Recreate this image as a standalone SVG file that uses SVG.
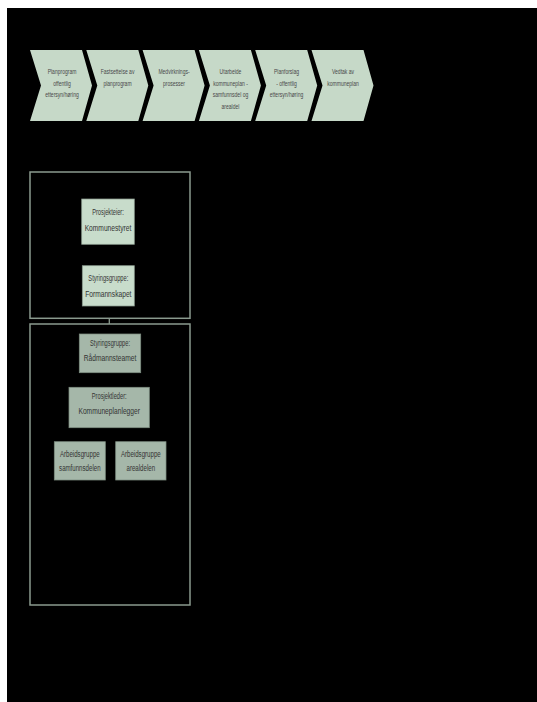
<svg xmlns="http://www.w3.org/2000/svg" width="537" height="702" viewBox="0 0 537 702">
<style>
.chev{fill:#c6d9c8;stroke:none}
.ct{font-family:"Liberation Sans",Arial,sans-serif;font-size:7.4px;fill:#484848;text-anchor:middle}
.cont{fill:#000;stroke:#8a9a8e;stroke-width:1.5}
.nl{fill:#c8dccb;stroke:#8a9a8e;stroke-width:0.75}
.nd{fill:#a5b7a9;stroke:#7d8d81;stroke-width:0.75}
.s{font-family:"Liberation Sans",Arial,sans-serif;font-size:8.4px;fill:#333;text-anchor:middle}
.b{font-family:"Liberation Sans",Arial,sans-serif;font-size:9.8px;fill:#333;text-anchor:middle}
.conn{stroke:#8a9a8e;stroke-width:1;fill:none}
</style>
<rect x="7" y="8" width="530" height="694" fill="#000"/>
<g id="process">
<g id="step1"><polygon class="chev" points="30,50 82,50 92,85.5 82,121 30,121 41,85.5"/>
<text class="ct" transform="translate(62,74) scale(0.68,1)">Planprogram</text>
<text class="ct" transform="translate(62,85.5) scale(0.68,1)">offentlig</text>
<text class="ct" transform="translate(62,97) scale(0.68,1)">ettersyn/høring</text></g>
<g id="step2"><polygon class="chev" points="86.3,50 138.3,50 148.3,85.5 138.3,121 86.3,121 97.3,85.5"/>
<text class="ct" transform="translate(117.5,74) scale(0.68,1)">Fastsettelse av</text>
<text class="ct" transform="translate(117.5,85.5) scale(0.68,1)">planprogram</text></g>
<g id="step3"><polygon class="chev" points="142.6,50 194.6,50 204.6,85.5 194.6,121 142.6,121 153.6,85.5"/>
<text class="ct" transform="translate(174,74) scale(0.68,1)">Medvirknings-</text>
<text class="ct" transform="translate(174,85.5) scale(0.68,1)">prosesser</text></g>
<g id="step4"><polygon class="chev" points="198.9,50 250.9,50 260.9,85.5 250.9,121 198.9,121 209.9,85.5"/>
<text class="ct" transform="translate(230.5,74) scale(0.68,1)">Utarbeide</text>
<text class="ct" transform="translate(230.5,85.5) scale(0.68,1)">kommuneplan -</text>
<text class="ct" transform="translate(230.5,97) scale(0.68,1)">samfunnsdel og</text>
<text class="ct" transform="translate(230.5,108.5) scale(0.68,1)">arealdel</text></g>
<g id="step5"><polygon class="chev" points="255.2,50 307.2,50 317.2,85.5 307.2,121 255.2,121 266.2,85.5"/>
<text class="ct" transform="translate(286.5,74) scale(0.68,1)">Planforslag</text>
<text class="ct" transform="translate(286.5,85.5) scale(0.68,1)">- offentlig</text>
<text class="ct" transform="translate(286.5,97) scale(0.68,1)">ettersyn/høring</text></g>
<g id="step6"><polygon class="chev" points="311.5,50 363.5,50 373.5,85.5 363.5,121 311.5,121 322.5,85.5"/>
<text class="ct" transform="translate(343,74) scale(0.68,1)">Vedtak av</text>
<text class="ct" transform="translate(343,85.5) scale(0.68,1)">kommuneplan</text></g>
</g>
<g id="connectors">
<line class="conn" x1="109.3" y1="306" x2="109.3" y2="334"/>
</g>
<g id="container-political"><rect class="cont" x="30" y="172" width="160" height="146.3"/></g>
<g id="container-admin"><rect class="cont" x="30" y="324" width="160" height="281"/></g>
<line class="conn" x1="109.3" y1="318.3" x2="109.3" y2="324"/>
<g id="kommunestyret"><rect class="nl" x="81.7" y="199" width="52.6" height="45.3"/>
<text class="s" transform="translate(108,215) scale(0.68,1)">Prosjekteier:</text>
<text class="b" transform="translate(108,231) scale(0.68,1)">Kommunestyret</text></g>
<g id="formannskapet"><rect class="nl" x="82.3" y="265.7" width="52" height="40.3"/>
<text class="s" transform="translate(108.3,281.3) scale(0.68,1)">Styringsgruppe:</text>
<text class="b" transform="translate(108.3,296.6) scale(0.68,1)">Formannskapet</text></g>
<g id="radmannsteamet"><rect class="nd" x="79.3" y="334" width="61.4" height="38.7"/>
<text class="s" transform="translate(110,346.3) scale(0.68,1)">Styringsgruppe:</text>
<text class="b" transform="translate(110,361) scale(0.68,1)">Rådmannsteamet</text></g>
<g id="prosjektleder"><rect class="nd" x="69" y="387.3" width="80.3" height="40.4"/>
<text class="s" transform="translate(109.2,398.7) scale(0.68,1)">Prosjektleder:</text>
<text class="b" transform="translate(109.2,414.3) scale(0.68,1)">Kommuneplanlegger</text></g>
<g id="ag-samfunnsdelen"><rect class="nd" x="54.3" y="441.7" width="51" height="38.3"/>
<text class="s" style="font-size:9px" transform="translate(79.8,456.5) scale(0.68,1)">Arbeidsgruppe</text>
<text class="s" style="font-size:9px" transform="translate(79.8,470.5) scale(0.68,1)">samfunnsdelen</text></g>
<g id="ag-arealdelen"><rect class="nd" x="115.7" y="441.7" width="50.3" height="38.3"/>
<text class="s" style="font-size:9px" transform="translate(140.8,456.5) scale(0.68,1)">Arbeidsgruppe</text>
<text class="s" style="font-size:9px" transform="translate(140.8,470.5) scale(0.68,1)">arealdelen</text></g>
</svg>
